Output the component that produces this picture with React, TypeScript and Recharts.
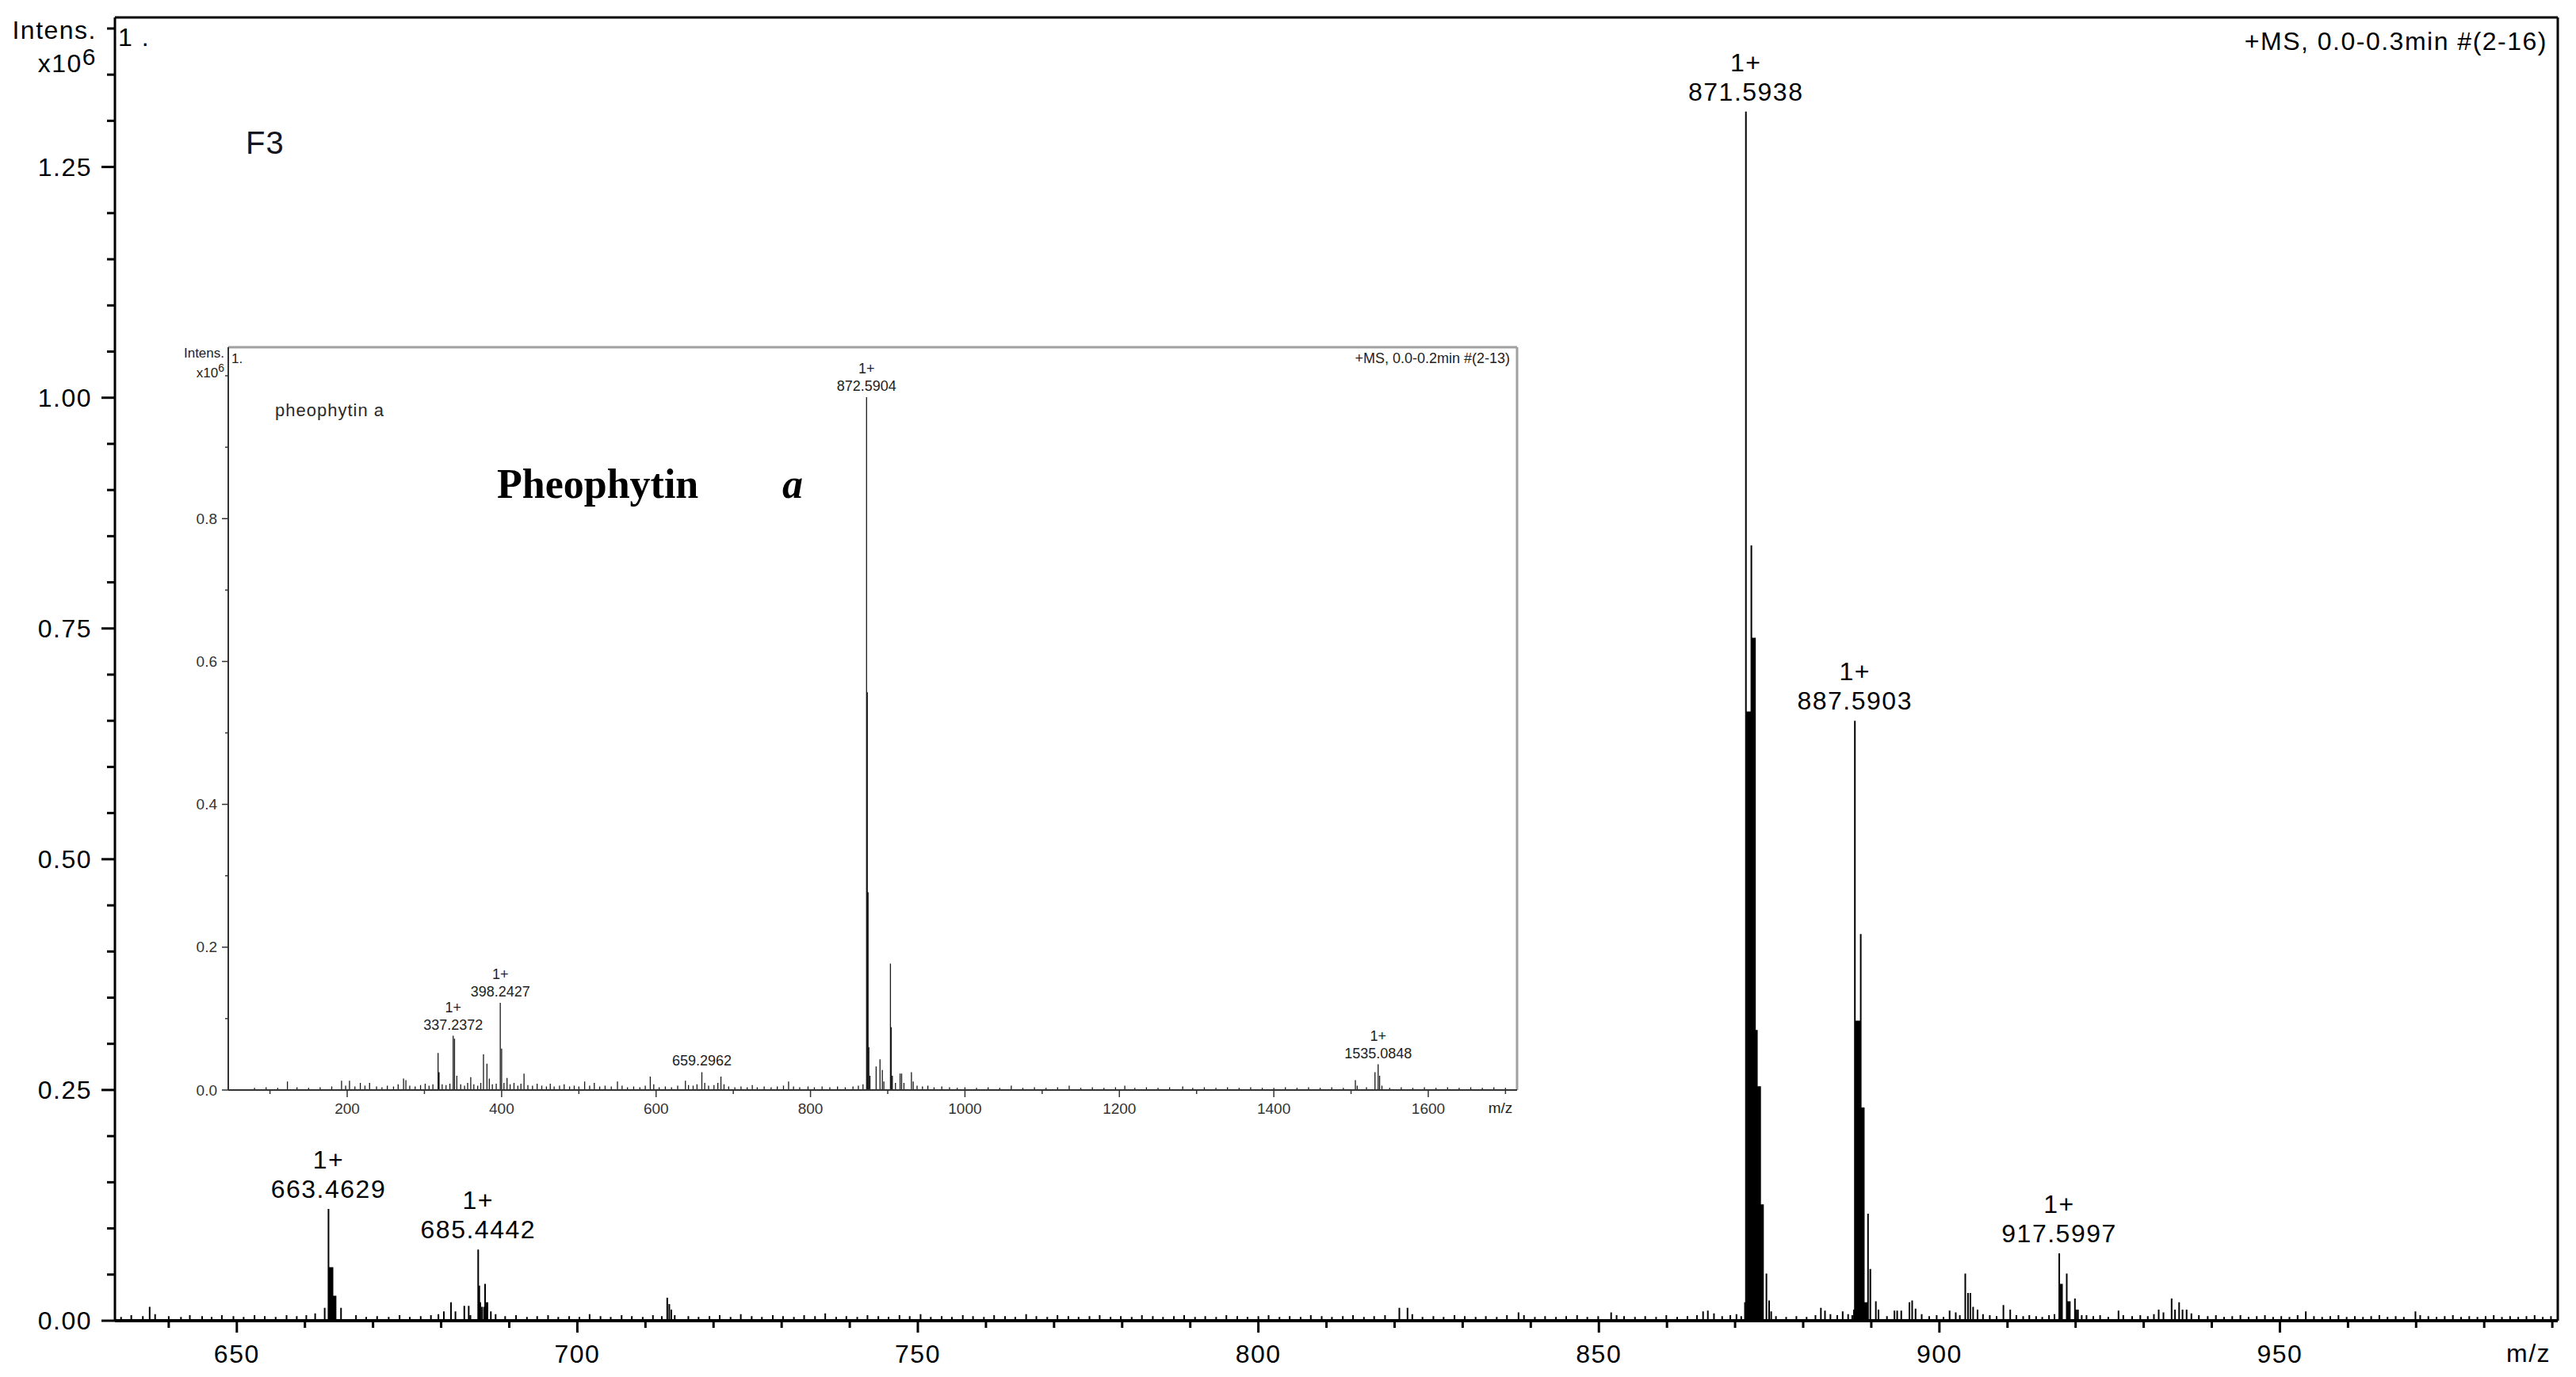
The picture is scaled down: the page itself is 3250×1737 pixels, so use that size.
import React from 'react'
import { ComposedChart, Line, Scatter, XAxis, YAxis, ReferenceLine } from 'recharts'

type Peak = [number, number]

const SANS = '"Liberation Sans", Arial, sans-serif'
const SERIF = '"Liberation Serif", "Times New Roman", serif'

// ---------- main spectrum (F3), intensity x10^6 ----------
const MZ_DOMAIN: [number, number] = [632.1, 990.8]
const INT_DOMAIN: [number, number] = [0, 1.412]
const MZ_TICKS = [640, 650, 660, 670, 680, 690, 700, 710, 720, 730, 740, 750, 760, 770, 780, 790, 800, 810, 820, 830, 840, 850, 860, 870, 880, 890, 900, 910, 920, 930, 940, 950, 960, 970, 980, 990]
const MZ_LABELS = [650, 700, 750, 800, 850, 900, 950]
const INT_TICKS = [0, 0.05, 0.1, 0.15, 0.2, 0.25, 0.3, 0.35, 0.4, 0.45, 0.5, 0.55, 0.6, 0.65, 0.7, 0.75, 0.8, 0.85, 0.9, 0.95, 1, 1.05, 1.1, 1.15, 1.2, 1.25, 1.3, 1.35, 1.4]
const INT_LABELS = [0, 0.25, 0.5, 0.75, 1, 1.25]

const CLUSTER_663: Peak[] = [
  [662.9, 0.014], [663.46, 0.121], [663.6, 0.058], [663.75, 0.058], [663.9, 0.058], [664.05, 0.058],
  [664.2, 0.027], [664.35, 0.027], [664.5, 0.027], [665.3, 0.014],
]
const CLUSTER_685: Peak[] = [
  [680.4, 0.01], [681.45, 0.02], [682.1, 0.01], [683.4, 0.016], [684.05, 0.016], [684.3, 0.006],
  [685.44, 0.077], [685.6, 0.038], [685.75, 0.02], [686.0, 0.015], [686.3, 0.015], [686.45, 0.04],
  [686.6, 0.02], [686.8, 0.02], [687.3, 0.01],
]
const CLUSTER_871: Peak[] = [
  [871.45, 0.02], [871.59, 1.31], [871.75, 0.66], [871.9, 0.66], [872.05, 0.66], [872.2, 0.66],
  [872.39, 0.84], [872.5, 0.74], [872.65, 0.74], [872.8, 0.74], [872.92, 0.74],
  [873.0, 0.315], [873.1, 0.315], [873.2, 0.315], [873.3, 0.254], [873.42, 0.254], [873.55, 0.254],
  [873.68, 0.254], [873.8, 0.126], [873.95, 0.126], [874.1, 0.126], [874.6, 0.051], [875.0, 0.022],
  [875.3, 0.01],
]
const CLUSTER_887: Peak[] = [
  [887.45, 0.012], [887.59, 0.65], [887.7, 0.325], [887.85, 0.325], [888.0, 0.325], [888.15, 0.325],
  [888.28, 0.325], [888.45, 0.419], [888.6, 0.231], [888.75, 0.231], [888.9, 0.231], [889.05, 0.02],
  [889.2, 0.02], [889.35, 0.02], [889.52, 0.116], [889.86, 0.056], [890.67, 0.021], [891.06, 0.012],
]
const CLUSTER_917: Peak[] = [
  [917.6, 0.073], [917.72, 0.04], [917.85, 0.04], [918.0, 0.04], [918.7, 0.051], [918.85, 0.021],
  [919.0, 0.021], [919.15, 0.021], [919.9, 0.024], [920.1, 0.012], [920.35, 0.012], [920.9, 0.006],
]
const MINOR_PEAKS: Peak[] = [
  [637.2, 0.015], [638.0, 0.007], [713.2, 0.025], [713.5, 0.018], [713.8, 0.012], [714.3, 0.006],
  [820.7, 0.014], [821.9, 0.014], [822.6, 0.007], [838.2, 0.009], [851.8, 0.009],
  [865.3, 0.01], [866.0, 0.011], [866.9, 0.008], [882.6, 0.014], [883.2, 0.011], [885.8, 0.01],
  [893.4, 0.011], [893.8, 0.011], [894.4, 0.011], [895.6, 0.02], [896.0, 0.022], [896.5, 0.013],
  [901.5, 0.011], [902.4, 0.009], [903.8, 0.051], [904.2, 0.03], [904.55, 0.03], [904.95, 0.015],
  [905.6, 0.012], [909.4, 0.017], [910.4, 0.012], [926.3, 0.011], [932.2, 0.012], [932.9, 0.009],
  [934.1, 0.024], [934.6, 0.012], [935.2, 0.02], [935.7, 0.012], [936.3, 0.012], [953.8, 0.01],
  [969.9, 0.01],
]
const NOISE: Peak[] = [
  [633.0, 0.004], [634.5, 0.006], [636.2, 0.005], [640.0, 0.005], [641.8, 0.004], [643.1, 0.006],
  [644.9, 0.005], [646.3, 0.004], [647.8, 0.006], [649.5, 0.005], [651.0, 0.004], [652.6, 0.006],
  [654.1, 0.005], [655.7, 0.004], [657.3, 0.006], [658.8, 0.005], [660.2, 0.006], [661.5, 0.008],
  [667.5, 0.006], [669.0, 0.004], [670.6, 0.005], [672.3, 0.004], [673.9, 0.006], [675.4, 0.004],
  [677.0, 0.005], [678.5, 0.006], [679.6, 0.007], [688.0, 0.007], [689.4, 0.005], [691.0, 0.006],
  [692.6, 0.004], [694.1, 0.005], [695.7, 0.006], [697.2, 0.004], [698.8, 0.005], [700.3, 0.004],
  [701.8, 0.007], [703.4, 0.005], [704.9, 0.004], [706.5, 0.006], [708.0, 0.005], [709.6, 0.004],
  [711.1, 0.006], [712.4, 0.005], [716.3, 0.005], [717.8, 0.004], [719.4, 0.005], [720.9, 0.006],
  [722.5, 0.004], [724.0, 0.007], [725.6, 0.005], [727.1, 0.004], [728.7, 0.006], [730.2, 0.005],
  [731.8, 0.004], [733.3, 0.006], [734.9, 0.005], [736.4, 0.008], [738.0, 0.004], [739.5, 0.005],
  [741.1, 0.004], [742.6, 0.006], [744.2, 0.005], [745.7, 0.004], [747.3, 0.006], [748.8, 0.005],
  [750.4, 0.007], [751.9, 0.004], [753.5, 0.005], [755.0, 0.004], [756.6, 0.006], [758.1, 0.005],
  [759.7, 0.004], [761.2, 0.006], [762.8, 0.005], [764.3, 0.004], [765.9, 0.007], [767.4, 0.005],
  [769.0, 0.004], [770.5, 0.006], [772.1, 0.005], [773.6, 0.004], [775.2, 0.005], [776.7, 0.006],
  [778.3, 0.004], [779.8, 0.005], [781.4, 0.004], [782.9, 0.006], [784.5, 0.005], [786.0, 0.004],
  [787.6, 0.005], [789.1, 0.006], [790.7, 0.004], [792.2, 0.005], [793.8, 0.004], [795.3, 0.006],
  [796.9, 0.005], [798.4, 0.004], [800.0, 0.005], [801.5, 0.006], [803.1, 0.004], [804.6, 0.005],
  [806.2, 0.004], [807.7, 0.006], [809.3, 0.005], [810.8, 0.004], [812.4, 0.005], [813.9, 0.006],
  [815.5, 0.004], [817.0, 0.005], [818.6, 0.006], [824.1, 0.004], [825.7, 0.005], [827.2, 0.004],
  [828.8, 0.006], [830.3, 0.005], [831.9, 0.004], [833.4, 0.005], [835.0, 0.004], [836.5, 0.006],
  [839.0, 0.006], [840.6, 0.004], [842.1, 0.005], [843.7, 0.004], [845.2, 0.005], [846.8, 0.006],
  [848.3, 0.004], [849.9, 0.005], [852.6, 0.006], [853.7, 0.005], [855.3, 0.004], [856.8, 0.005],
  [858.4, 0.004], [859.9, 0.006], [861.5, 0.004], [863.0, 0.005], [864.4, 0.006], [868.1, 0.005],
  [869.3, 0.006], [870.2, 0.007], [870.9, 0.005], [876.0, 0.005], [877.5, 0.004], [879.0, 0.005],
  [880.5, 0.004], [881.8, 0.006], [884.0, 0.007], [885.0, 0.006], [886.6, 0.007], [887.2, 0.006],
  [892.3, 0.005], [897.4, 0.007], [898.5, 0.005], [899.6, 0.006], [900.6, 0.004], [903.0, 0.006],
  [906.4, 0.007], [907.4, 0.006], [908.4, 0.005], [911.3, 0.006], [912.3, 0.005], [913.2, 0.006],
  [914.2, 0.005], [915.1, 0.004], [916.1, 0.006], [916.9, 0.007], [921.6, 0.006], [922.6, 0.005],
  [923.6, 0.006], [924.8, 0.004], [927.0, 0.006], [928.3, 0.005], [929.5, 0.006], [930.6, 0.005],
  [931.5, 0.007], [937.0, 0.008], [938.1, 0.006], [939.4, 0.005], [940.6, 0.006], [941.8, 0.004],
  [943.0, 0.005], [944.2, 0.006], [945.4, 0.004], [946.6, 0.005], [947.8, 0.006], [949.0, 0.004],
  [950.2, 0.005], [951.4, 0.004], [952.6, 0.006], [955.0, 0.005], [956.2, 0.004], [957.4, 0.005],
  [958.6, 0.006], [959.8, 0.004], [961.0, 0.005], [962.2, 0.004], [963.4, 0.005], [964.6, 0.006],
  [965.8, 0.004], [967.0, 0.005], [968.2, 0.004], [970.6, 0.006], [971.8, 0.005], [973.0, 0.004],
  [974.2, 0.005], [975.4, 0.006], [976.6, 0.004], [977.8, 0.005], [979.0, 0.004], [980.2, 0.005],
  [981.4, 0.006], [982.6, 0.004], [983.8, 0.005], [985.0, 0.004], [986.2, 0.005], [987.4, 0.006],
  [988.6, 0.004], [989.8, 0.005],
]
const MAIN_LABELS = [
  { mz: 663.46, h: 0.121, text: '663.4629' },
  { mz: 685.44, h: 0.077, text: '685.4442' },
  { mz: 871.59, h: 1.31, text: '871.5938' },
  { mz: 887.59, h: 0.65, text: '887.5903' },
  { mz: 917.6, h: 0.073, text: '917.5997' },
]

// ---------- inset spectrum (pheophytin a standard) ----------
const IN_MZ_DOMAIN: [number, number] = [46, 1715]
const IN_INT_DOMAIN: [number, number] = [0, 1.04]
const IN_MZ_TICKS = [100, 200, 300, 400, 500, 600, 700, 800, 900, 1000, 1100, 1200, 1300, 1400, 1500, 1600, 1700]
const IN_MZ_LABELS = [200, 400, 600, 800, 1000, 1200, 1400, 1600]
const IN_INT_TICKS = [0, 0.1, 0.2, 0.3, 0.4, 0.5, 0.6, 0.7, 0.8, 0.9, 1]
const IN_INT_LABELS = [0, 0.2, 0.4, 0.6, 0.8]

const IN_PEAKS: Peak[] = [
  [80, 0.003], [95, 0.004], [110, 0.003], [122.6, 0.012], [135, 0.004], [150, 0.003], [165, 0.004],
  [180, 0.005], [192.7, 0.013], [198, 0.006], [203, 0.013], [210, 0.005], [217, 0.01], [223, 0.006],
  [229, 0.01], [238, 0.005], [245, 0.004], [252, 0.006], [260, 0.005], [266, 0.008], [273, 0.016],
  [276, 0.014], [281, 0.006], [288, 0.005], [295, 0.007], [301, 0.009], [306, 0.006], [311, 0.008],
  [317.7, 0.052], [319, 0.025], [323, 0.008], [328, 0.007], [333, 0.009], [337.24, 0.076], [339, 0.072],
  [342, 0.02], [347, 0.008], [352, 0.006], [356, 0.01], [360, 0.018], [364, 0.008], [369, 0.006],
  [373, 0.01], [376.5, 0.05], [381, 0.037], [384, 0.016], [388, 0.008], [393, 0.009], [398.24, 0.122],
  [400, 0.058], [403, 0.01], [407, 0.017], [411, 0.008], [416, 0.01], [421, 0.006], [425, 0.009],
  [429, 0.023], [434, 0.007], [440, 0.006], [446, 0.009], [452, 0.006], [458, 0.005], [463, 0.009],
  [468, 0.005], [475, 0.006], [481, 0.008], [488, 0.005], [494, 0.006], [500, 0.005], [507.5, 0.012],
  [514, 0.006], [520, 0.01], [527, 0.005], [534, 0.006], [542, 0.005], [550, 0.012], [556, 0.006],
  [563, 0.004], [571, 0.005], [579, 0.004], [586, 0.006], [592.5, 0.019], [597, 0.008], [604, 0.004],
  [612, 0.005], [620, 0.004], [628, 0.006], [638, 0.013], [642, 0.007], [648, 0.006], [653, 0.008],
  [659.3, 0.025], [663, 0.01], [668, 0.006], [675, 0.007], [680, 0.01], [684, 0.019], [688, 0.008],
  [694, 0.005], [702, 0.004], [710, 0.005], [718, 0.004], [724.6, 0.007], [731, 0.004], [740, 0.005],
  [749, 0.004], [757, 0.005], [765, 0.006], [771.6, 0.012], [778, 0.005], [786, 0.004], [796.8, 0.005],
  [805, 0.004], [815, 0.005], [825, 0.004], [835, 0.005], [845, 0.004], [855, 0.005], [862, 0.006],
  [868, 0.008], [872.59, 0.97], [873.59, 0.557], [874.6, 0.277], [875.6, 0.06], [877, 0.02],
  [885, 0.033], [890, 0.043], [893, 0.028], [895, 0.012], [903.5, 0.177], [904.6, 0.088], [906, 0.02],
  [910, 0.01], [916, 0.023], [918, 0.023], [921, 0.01], [930.7, 0.025], [933, 0.012], [938, 0.006],
  [945, 0.005], [952, 0.006], [960, 0.004], [970, 0.005], [980, 0.004], [990, 0.003], [1000, 0.004],
  [1015, 0.003], [1030, 0.004], [1045, 0.003], [1060, 0.006], [1075, 0.003], [1090, 0.004],
  [1105, 0.003], [1120, 0.004], [1135, 0.006], [1150, 0.003], [1165, 0.004], [1180, 0.003],
  [1195, 0.004], [1207, 0.006], [1220, 0.003], [1235, 0.004], [1250, 0.003], [1265, 0.004],
  [1282, 0.005], [1295, 0.003], [1310, 0.004], [1325, 0.003], [1340, 0.004], [1355, 0.003],
  [1370, 0.004], [1385, 0.003], [1400, 0.003], [1415, 0.004], [1430, 0.003], [1445, 0.004],
  [1460, 0.003], [1475, 0.004], [1490, 0.003], [1505.6, 0.014], [1508, 0.006], [1520, 0.004],
  [1531, 0.025], [1535.08, 0.036], [1537, 0.02], [1540, 0.006], [1550, 0.003], [1565, 0.004],
  [1580, 0.003], [1595, 0.004], [1610, 0.003], [1625, 0.004], [1640, 0.003], [1655, 0.004],
  [1670, 0.003], [1685, 0.004], [1700, 0.003],
]
const IN_LABELS = [
  { mz: 337.24, h: 0.076, text: '337.2372', charge: true },
  { mz: 398.24, h: 0.122, text: '398.2427', charge: true },
  { mz: 659.3, h: 0.025, text: '659.2962', charge: false },
  { mz: 872.59, h: 0.97, text: '872.5904', charge: true },
  { mz: 1535.08, h: 0.036, text: '1535.0848', charge: true },
]

// stick spectrum: each peak is drawn baseline -> top -> baseline
function toSticks(...groups: Peak[][]) {
  return groups
    .flat()
    .sort((a, b) => a[0] - b[0])
    .flatMap(([mz, h]) => [{ mz, v: 0 }, { mz, v: h }, { mz, v: 0 }])
}

const mainSticks = toSticks(CLUSTER_663, CLUSTER_685, CLUSTER_871, CLUSTER_887, CLUSTER_917, MINOR_PEAKS, NOISE)
const insetSticks = toSticks(IN_PEAKS)

const txt = { fontFamily: SANS, fill: '#000' }

function MainXTick({ x, y, payload }: any) {
  const major = MZ_LABELS.includes(payload.value)
  return (
    <g>
      <line x1={x} x2={x} y1={y} y2={y + (major ? 15 : 9)} stroke="#000" strokeWidth={3} />
      {major && (
        <text x={x} y={y + 42} textAnchor="middle" dominantBaseline="central" fontSize={32} letterSpacing={1.5} {...txt}>
          {payload.value}
        </text>
      )}
    </g>
  )
}

function MainYTick({ x, y, payload }: any) {
  const major = INT_LABELS.includes(payload.value)
  return (
    <g>
      <line x1={x - (major ? 17 : 10)} x2={x} y1={y} y2={y} stroke="#000" strokeWidth={3} />
      {major && (
        <text x={x - 29} y={y} textAnchor="end" dominantBaseline="central" fontSize={32} letterSpacing={1.5} {...txt}>
          {payload.value.toFixed(2)}
        </text>
      )}
    </g>
  )
}

function InsetXTick({ x, y, payload }: any) {
  const major = IN_MZ_LABELS.includes(payload.value)
  return (
    <g>
      <line x1={x} x2={x} y1={y} y2={y + (major ? 9 : 5)} stroke="#333" strokeWidth={1.5} />
      {major && (
        <text x={x} y={y + 23} textAnchor="middle" dominantBaseline="central" fontSize={19} fontFamily={SANS} fill="#333">
          {payload.value}
        </text>
      )}
    </g>
  )
}

function InsetYTick({ x, y, payload }: any) {
  const major = IN_INT_LABELS.includes(payload.value)
  return (
    <g>
      <line x1={x - (major ? 8 : 4)} x2={x} y1={y} y2={y} stroke="#333" strokeWidth={1.5} />
      {major && (
        <text x={x - 14} y={y} textAnchor="end" dominantBaseline="central" fontSize={19} fontFamily={SANS} fill="#333">
          {payload.value.toFixed(1)}
        </text>
      )}
    </g>
  )
}

const mainLabel = (p: any) => (
  <g>
    <text x={p.cx} y={p.cy - 62} textAnchor="middle" dominantBaseline="central" fontSize={32} letterSpacing={1.5} {...txt}>1+</text>
    <text x={p.cx} y={p.cy - 25} textAnchor="middle" dominantBaseline="central" fontSize={32} letterSpacing={1.5} {...txt}>
      {p.payload.text}
    </text>
  </g>
)

const insetLabel = (p: any) => (
  <g>
    {p.payload.charge && (
      <text x={p.cx} y={p.cy - 36} textAnchor="middle" dominantBaseline="central" fontSize={18} fontFamily={SANS} fill="#222">1+</text>
    )}
    <text x={p.cx} y={p.cy - 14} textAnchor="middle" dominantBaseline="central" fontSize={18} fontFamily={SANS} fill="#222">
      {p.payload.text}
    </text>
  </g>
)

export default function App() {
  return (
    <div style={{ position: 'fixed', left: 0, top: 0, width: 3250, height: 1737, overflow: 'hidden', background: '#fff' }}>
      <ComposedChart width={3250} height={1737} margin={{ top: 22, right: 23, bottom: 0, left: 0 }}>
        <XAxis xAxisId="b" type="number" dataKey="mz" domain={MZ_DOMAIN} allowDataOverflow ticks={MZ_TICKS}
          interval={0} tickSize={0} tickMargin={0} tickLine={false} tick={(p: any) => <MainXTick {...p} />}
          axisLine={{ stroke: '#000', strokeWidth: 4 }} height={71} />
        <YAxis yAxisId="l" type="number" domain={INT_DOMAIN} allowDataOverflow ticks={INT_TICKS} interval={0}
          tickSize={0} tickMargin={0} tickLine={false} tick={(p: any) => <MainYTick {...p} />}
          axisLine={{ stroke: '#000', strokeWidth: 3 }} width={145} />
        {/* plot frame: top and right edges */}
        <ReferenceLine xAxisId="b" yAxisId="l" y={INT_DOMAIN[1]} stroke="#000" strokeWidth={3} />
        <ReferenceLine xAxisId="b" yAxisId="l" x={MZ_DOMAIN[1]} stroke="#000" strokeWidth={3} />
        <Line xAxisId="b" yAxisId="l" data={mainSticks} dataKey="v" type="linear" stroke="#000" strokeWidth={2}
          strokeLinejoin="bevel" dot={false} activeDot={false} isAnimationActive={false} />
        <Scatter xAxisId="b" yAxisId="l" data={MAIN_LABELS} dataKey="h" shape={mainLabel} isAnimationActive={false} />
      </ComposedChart>

      <div style={{ position: 'absolute', left: 200, top: 420, width: 1730, height: 1020, background: '#fff' }}>
        <ComposedChart width={1730} height={1020} margin={{ top: 18, right: 16, bottom: 0, left: 0 }}>
          <XAxis xAxisId="b" type="number" dataKey="mz" domain={IN_MZ_DOMAIN} allowDataOverflow ticks={IN_MZ_TICKS}
            interval={0} tickSize={0} tickMargin={0} tickLine={false} tick={(p: any) => <InsetXTick {...p} />}
            axisLine={{ stroke: '#333', strokeWidth: 2 }} height={65} />
          <YAxis yAxisId="l" type="number" domain={IN_INT_DOMAIN} allowDataOverflow ticks={IN_INT_TICKS} interval={0}
            tickSize={0} tickMargin={0} tickLine={false} tick={(p: any) => <InsetYTick {...p} />}
            axisLine={{ stroke: '#333', strokeWidth: 2 }} width={88} />
          <ReferenceLine xAxisId="b" yAxisId="l" y={IN_INT_DOMAIN[1]} stroke="#a0a0a0" strokeWidth={3} />
          <ReferenceLine xAxisId="b" yAxisId="l" x={IN_MZ_DOMAIN[1]} stroke="#a0a0a0" strokeWidth={3} />
          <Line xAxisId="b" yAxisId="l" data={insetSticks} dataKey="v" type="linear" stroke="#1a1a1a" strokeWidth={1.3}
            strokeLinejoin="bevel" dot={false} activeDot={false} isAnimationActive={false} />
          <Scatter xAxisId="b" yAxisId="l" data={IN_LABELS} dataKey="h" shape={insetLabel} isAnimationActive={false} />
        </ComposedChart>
      </div>

      {/* annotations */}
      <svg width={3250} height={1737} style={{ position: 'absolute', left: 0, top: 0, pointerEvents: 'none' }}>
        <g fontFamily={SANS} fill="#000" fontSize={32} letterSpacing={1.5}>
          <text x={122} y={38} textAnchor="end" dominantBaseline="central">Intens.</text>
          <text x={122} y={80} textAnchor="end" dominantBaseline="central">
            x10<tspan dy={-9} fontSize={30}>6</tspan>
          </text>
          <text x={149} y={47} dominantBaseline="central">1 .</text>
          <text x={3214} y={52} textAnchor="end" dominantBaseline="central">+MS, 0.0-0.3min #(2-16)</text>
          <text x={3190} y={1707} textAnchor="middle" dominantBaseline="central">m/z</text>
          <text x={310} y={180} dominantBaseline="central" fontSize={40} fill="#15151f" letterSpacing={1}>F3</text>
        </g>
        <g fontFamily={SANS} fill="#222">
          <text x={283} y={445} textAnchor="end" dominantBaseline="central" fontSize={17}>Intens.</text>
          <text x={283} y={470} textAnchor="end" dominantBaseline="central" fontSize={17}>
            x10<tspan dy={-6} fontSize={14}>6</tspan>
          </text>
          <text x={292} y={452} dominantBaseline="central" fontSize={17}>1.</text>
          <text x={1905} y={452} textAnchor="end" dominantBaseline="central" fontSize={18}>+MS, 0.0-0.2min #(2-13)</text>
          <text x={1893} y={1397} textAnchor="middle" dominantBaseline="central" fontSize={19}>m/z</text>
          <text x={347} y={517} dominantBaseline="central" fontSize={22} letterSpacing={1} fill="#2a2a2a">pheophytin a</text>
        </g>
        <text x={627} y={610} dominantBaseline="central" fontFamily={SERIF} fontWeight="bold" fontSize={52} fill="#000">Pheophytin</text>
        <text x={987} y={610} dominantBaseline="central" fontFamily={SERIF} fontWeight="bold" fontStyle="italic" fontSize={52} fill="#000">a</text>
      </svg>
    </div>
  )
}
